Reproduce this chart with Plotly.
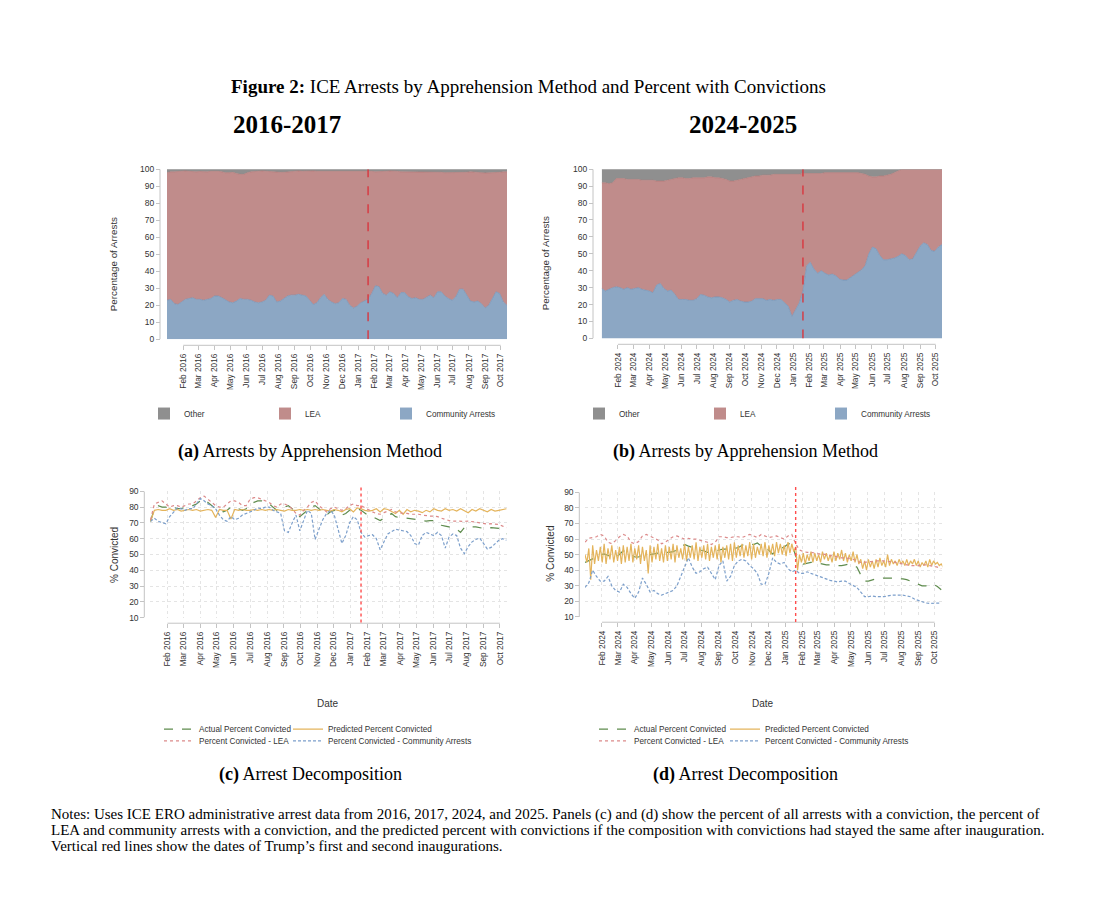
import pandas as pd
import plotly.graph_objects as go

W, H = 1118, 908
OX, OY = 8, 8  # page body margin of the html page
def px(x): return (x - OX) / W
def py(y): return 1 - (y - OY) / H

SANS = "Liberation Sans, Arial, sans-serif"
SERIF = "Liberation Serif, Times New Roman, serif"
TEXT = "#333333"
AXIS_GRAY = "#c4c4c4"
GRID = "#e4e4e4"

# ---------------- data ----------------
start_2016 = "2016-01-01"
start_2024 = "2024-01-01"
inauguration_1 = "2017-01-20"
inauguration_2 = "2025-01-20"

ticks_2016 = ["2016-02-01", "2016-03-01", "2016-04-01", "2016-05-01", "2016-06-01", "2016-07-01",
              "2016-08-01", "2016-09-01", "2016-10-01", "2016-11-01", "2016-12-01", "2017-01-01",
              "2017-02-01", "2017-03-01", "2017-04-01", "2017-05-01", "2017-06-01", "2017-07-01",
              "2017-08-01", "2017-09-01", "2017-10-01"]
labels_2016 = ["Feb 2016", "Mar 2016", "Apr 2016", "May 2016", "Jun 2016", "Jul 2016",
               "Aug 2016", "Sep 2016", "Oct 2016", "Nov 2016", "Dec 2016", "Jan 2017",
               "Feb 2017", "Mar 2017", "Apr 2017", "May 2017", "Jun 2017", "Jul 2017",
               "Aug 2017", "Sep 2017", "Oct 2017"]
ticks_2024 = ["2024-02-01", "2024-03-01", "2024-04-01", "2024-05-01", "2024-06-01", "2024-07-01",
              "2024-08-01", "2024-09-01", "2024-10-01", "2024-11-01", "2024-12-01", "2025-01-01",
              "2025-02-01", "2025-03-01", "2025-04-01", "2025-05-01", "2025-06-01", "2025-07-01",
              "2025-08-01", "2025-09-01", "2025-10-01"]
labels_2024 = ["Feb 2024", "Mar 2024", "Apr 2024", "May 2024", "Jun 2024", "Jul 2024",
               "Aug 2024", "Sep 2024", "Oct 2024", "Nov 2024", "Dec 2024", "Jan 2025",
               "Feb 2025", "Mar 2025", "Apr 2025", "May 2025", "Jun 2025", "Jul 2025",
               "Aug 2025", "Sep 2025", "Oct 2025"]

# Panel (a): weekly share of arrests, 2016-2017
a_community = [23, 23.5, 21, 20.5, 22, 23.5, 24, 24.5, 23.5, 23.5,
               23, 23.5, 24, 25.5, 25.5, 24.5, 23, 22, 21.5, 22.5,
               24, 23.5, 23.5, 23, 22, 21.5, 22, 23, 26, 25.5,
               22, 22.5, 24, 25.5, 26, 26, 26.5, 26, 25.5, 23,
               20.5, 21.5, 24.5, 26.5, 23.5, 22, 21, 21.5, 24, 23.5,
               20, 18.5, 19.5, 21.5, 22.5, 23.5, 27, 31.5, 31, 27,
               26, 28, 27, 24.5, 27.5, 27.5, 25, 24, 24.5, 23.5,
               23.5, 25, 26, 24.5, 28, 28, 25.5, 24, 23, 25,
               29.5, 29.5, 26, 22.5, 22, 22.5, 21, 18.5, 20, 24,
               28, 27, 22, 20]
a_lea = [75.0, 75.0, 77.5, 78.3, 76.8, 75.5, 74.8, 74.0, 75.0, 75.2,
         75.5, 75.0, 74.8, 73.5, 73.3, 74.0, 75.0, 76.0, 76.7, 75.0,
         73.0, 73.5, 74.5, 75.5, 76.5, 77.3, 77.0, 75.8, 72.5, 73.0,
         76.5, 75.7, 74.2, 73.0, 72.8, 73.0, 72.5, 72.8, 73.5, 76.0,
         78.5, 77.3, 74.3, 72.5, 75.5, 77.0, 78.2, 77.7, 75.2, 75.5,
         79.0, 80.7, 79.5, 77.5, 76.3, 75.3, 71.8, 67.0, 67.5, 71.8,
         72.8, 71.0, 72.0, 74.3, 71.0, 71.0, 73.5, 74.2, 73.7, 74.7,
         75.0, 73.5, 72.5, 74.0, 70.2, 70.2, 72.5, 74.0, 75.2, 73.2,
         68.7, 68.7, 72.2, 76.0, 76.2, 75.5, 77.0, 79.3, 77.8, 74.0,
         70.0, 71.2, 76.5, 78.5]
a_other = [2.0, 1.5, 1.5, 1.2, 1.2, 1.0, 1.2, 1.5, 1.5, 1.3,
           1.5, 1.5, 1.2, 1.0, 1.2, 1.5, 2.0, 2.0, 1.8, 2.5,
           3.0, 3.0, 2.0, 1.5, 1.5, 1.2, 1.0, 1.2, 1.5, 1.5,
           1.5, 1.8, 1.8, 1.5, 1.2, 1.0, 1.0, 1.2, 1.0, 1.0,
           1.0, 1.2, 1.2, 1.0, 1.0, 1.0, 0.8, 0.8, 0.8, 1.0,
           1.0, 0.8, 1.0, 1.0, 1.2, 1.2, 1.2, 1.5, 1.5, 1.2,
           1.2, 1.0, 1.0, 1.2, 1.5, 1.5, 1.5, 1.8, 1.8, 1.8,
           1.5, 1.5, 1.5, 1.5, 1.8, 1.8, 2.0, 2.0, 1.8, 1.8,
           1.8, 1.8, 1.8, 1.5, 1.8, 2.0, 2.0, 2.2, 2.2, 2.0,
           2.0, 1.8, 1.5, 1.5]

# Panel (b): weekly share of arrests, 2024-2025
b_community = [29.5, 28, 29, 30, 30.5, 30, 29, 30, 29, 29.5,
               30, 29, 28.5, 28, 27, 31.5, 32.5, 29.5, 28, 28.5,
               26, 23, 23, 23, 22.5, 22.5, 23.5, 26, 25.5, 24.5,
               24, 24.5, 24.5, 24, 23, 21.5, 22.5, 23, 22, 21.5,
               21.5, 22, 23.5, 23.5, 23.5, 22.5, 23, 22.5, 23, 23,
               21, 19, 13, 17.5, 21, 28, 43, 45, 41, 38.5,
               40, 38.5, 37.5, 38, 37, 35, 34.5, 34.5, 36, 38,
               39.5, 40.5, 43, 50, 54, 53, 49, 46.5, 46.5, 47,
               47.5, 48.5, 50, 49, 46.5, 47, 51, 54.5, 56.5, 55.5,
               52, 51.5, 54, 55.5]
b_lea = [62.5, 64, 62.5, 62, 64, 64.5, 65.5, 64, 65, 64.5,
         64, 64.5, 65, 65.5, 66.5, 61.5, 60.5, 63.5, 65.5, 65.5,
         68.5, 72, 72, 71.5, 72, 72.5, 71.5, 69, 69.5, 71,
         71.5, 70.5, 70.5, 70.5, 71, 71.5, 70.5, 70.5, 72, 73,
         73.5, 73.5, 72.5, 72.5, 73, 74, 73.5, 74.5, 74, 74,
         76, 78, 84, 79.5, 76, 69.5, 54.5, 52.5, 56.5, 59,
         57.5, 59.5, 60.5, 60, 61, 63, 63.5, 63.5, 62, 60,
         58.5, 57, 54, 46, 41.5, 42.5, 47, 49.5, 50, 50,
         50.5, 50.5, 50, 51, 53.5, 53, 49, 45.5, 43.5, 44.5,
         48, 48.5, 46, 44.5]
b_other = [8, 8, 8.5, 8, 5.5, 5.5, 5.5, 6, 6, 6,
           6, 6.5, 6.5, 6.5, 6.5, 7, 7, 7, 6.5, 6,
           5.5, 5, 5, 5.5, 5.5, 5, 5, 5, 5, 4.5,
           4.5, 5, 5, 5.5, 6, 7, 7, 6.5, 6, 5.5,
           5, 4.5, 4, 4, 3.5, 3.5, 3.5, 3, 3, 3,
           3, 3, 3, 3, 3, 2.5, 2.5, 2.5, 2.5, 2.5,
           2.5, 2, 2, 2, 2, 2, 2, 2, 2, 2,
           2, 2.5, 3, 4, 4.5, 4.5, 4, 4, 3.5, 3,
           2, 1, 0, 0, 0, 0, 0, 0, 0, 0,
           0, 0, 0, 0]

# Panel (c): weekly percent convicted, 2016-2017
c_actual = [71, 79, 81, 80, 80, 79, 80, 79, 79, 80,
            81, 81, 82, 84, 85, 83, 81, 79, 78, 77,
            78, 80, 80, 79, 78, 79, 82, 83, 84, 84,
            83, 82, 80, 78, 79, 80, 81, 79, 77, 74,
            76, 78, 80, 81, 79, 77, 75, 77, 78, 77,
            75, 76, 78, 79, 79, 78, 76, 74.5, 74, 73,
            71.5, 73, 74.5, 76, 74, 73.3, 73.3, 73, 73, 72.7,
            72, 71.5, 71.2, 71.5, 71.5, 70.2, 68.5, 68, 67.5, 66.5,
            66, 64, 67, 68, 67.5, 67.5, 67, 66.5, 66, 67,
            66.8, 66.6, 65, 63]
c_predicted = [71, 78, 78.5, 78, 78, 79, 78, 78.5, 77.5, 78,
               78.5, 78, 78.5, 77.5, 78, 78.5, 78, 73.5, 78.5, 78,
               78, 72.5, 78.5, 78, 78.5, 78, 78, 78.5, 78, 78.5,
               78, 78.5, 78, 78.5, 78, 77.5, 78.5, 78, 78, 78.5,
               78, 78.5, 78, 78.5, 78, 78.5, 78, 77.5, 78.5, 78,
               77, 78.5, 79, 77, 79.5, 79, 78, 77.5, 78, 79,
               77, 79, 78.5, 77.5, 76, 78, 75.5, 78.5, 77, 78,
               77.5, 76.5, 78, 77, 79, 78, 77.5, 79, 78, 78.5,
               77.5, 79, 78, 76.5, 78.5, 77.5, 79, 78, 77, 78.5,
               77.5, 78, 78.5, 79]
c_lea = [72, 82, 83, 84, 82, 80, 81, 81, 80, 81,
         82, 82, 84, 86, 87, 85, 83, 81, 80, 80,
         82, 84, 84, 83, 81, 81, 85, 86, 86, 85,
         84, 83, 81, 80, 82, 82, 81, 79, 76, 75,
         78, 80, 83, 84, 81, 79, 77, 79, 80, 79,
         78, 79, 81, 82, 81, 81, 79.5, 78.5, 77, 76,
         75.5, 76.5, 77.5, 78.5, 77, 76.5, 76, 76, 75.5, 75.5,
         75.5, 75, 74.5, 74.3, 74.3, 74, 73, 72, 71.5, 71.2,
         71, 70.8, 71, 71.2, 70.8, 70.2, 69.8, 69.3, 69.3, 69.5,
         69.2, 69, 68, 67]
c_community = [71, 73, 71, 70, 69.5, 74, 77, 79.5, 79, 78,
               79, 79, 82, 85.5, 84, 82, 81, 79, 75, 72,
               71, 74, 72, 73, 75, 76, 76.5, 78, 79.5, 79,
               80, 80, 78, 77, 76, 65, 64, 70, 75, 65,
               72, 78, 76, 59.5, 66, 72, 76, 78, 75, 66,
               57, 62, 70, 74, 72, 64, 61, 62, 62.5, 60,
               53, 58, 63, 64.5, 66, 65.5, 65, 64.5, 62, 57,
               56, 62, 64, 63, 62, 64, 62, 54, 61, 63,
               62, 54, 50.5, 55, 58, 59.5, 60.5, 57, 53.5, 54.5,
               57, 59, 60, 59]

# Panel (d): weekly percent convicted, 2024-2025 (predicted is half-weekly)
d_actual = [45, 46, 47, 48.5, 50, 50.5, 49.5, 49, 48, 50,
            52.5, 51.5, 50, 48.5, 48.5, 50, 50, 50, 50.5, 51,
            51, 51.5, 51.5, 52, 53, 55, 56.5, 55.5, 54.5, 53.5,
            53, 52.5, 51.5, 51.5, 52.5, 53, 53.5, 53.5, 53.5, 54,
            54.5, 56, 57, 57, 56.5, 57.5, 55.5, 55, 52.5, 50.5,
            52.5, 53.5, 55, 56.8, 57.5, 49, 45, 44, 44.5, 45,
            45, 44.5, 44, 43.5, 43.5, 43.5, 43, 43, 43.5, 44,
            43, 42, 37, 33, 33, 34, 34.5, 34.5, 35, 35,
            35, 35, 34.5, 34.5, 34, 33, 32, 31, 30, 30,
            30.5, 31, 29.5, 27.5]
d_predicted = [50, 45, 54, 34, 56, 44, 53, 46, 55, 45, 57, 44, 54, 47, 56, 45, 53, 46, 55, 44,
               56, 45, 55, 46, 57, 45, 54, 47, 56, 44, 55, 46, 53, 38, 56, 45, 55, 47, 57, 46,
               54, 45, 56, 46, 55, 47, 57, 45, 56, 48, 54, 47, 57, 46, 55, 48, 56, 47, 58, 46,
               55, 48, 56, 47, 57, 46, 55, 48, 56, 47, 57, 45, 55, 48, 56, 47, 57, 46, 58, 48,
               56, 49, 57, 48, 56, 49, 58, 47, 57, 48, 55, 50, 57, 49, 58, 48, 56, 50, 57, 49,
               58, 51, 57, 50, 56, 49, 58, 51, 57, 52, 55, 40, 50, 45, 51, 44, 50, 46, 52, 45,
               51, 46, 50, 45, 52, 47, 51, 46, 50, 45, 52, 46, 51, 47, 53, 46, 51, 45, 50, 46,
               52, 45, 50, 44, 47, 41, 46, 40, 47, 42, 46, 41, 47, 42, 48, 43, 46, 42, 50, 43,
               47, 44, 46, 43, 47, 44, 46, 43, 47, 43, 46, 44, 47, 43, 46, 42, 45, 43, 46, 42,
               47, 43, 46, 44, 45, 43, 44, 42]
d_lea = [58, 60.5, 61, 61.5, 63, 62, 58, 57, 59, 61.5,
         63, 62, 58, 57, 58.5, 62, 63, 62, 61, 59.5,
         57, 58, 60, 61.5, 62, 61, 60, 60.5, 60, 60,
         59, 58.5, 58, 56.5, 58, 61.5, 61.5, 61, 61, 61.5,
         61.5, 61, 62, 63, 62, 61, 63, 62, 61, 61.5,
         62, 61, 60, 62, 63, 57, 53, 52, 51.5, 51.5,
         51, 50.5, 50.5, 50, 49.5, 49, 48.5, 48, 48, 47.5,
         47, 46, 45, 45, 45.5, 45.5, 46, 46, 46, 45.5,
         45.5, 45, 44.5, 44, 43.5, 43, 43, 43, 43.5, 43.5,
         43, 42.5, 42, 41]
d_community = [29, 32, 40, 36, 33, 33, 36, 30, 27, 26,
               31, 29, 25, 22, 26, 35, 31, 26, 27, 25,
               24, 25, 26, 27, 30, 36, 43, 48, 42, 38,
               39, 41, 42, 38, 34, 43, 46, 33, 36, 43,
               46, 47, 46, 43, 41, 38, 31, 31, 38, 48,
               45, 44, 45, 41, 39, 40, 38, 38, 39, 38,
               37, 36, 35, 34.5, 33.5, 33, 32.5, 33, 33, 31.5,
               30.5, 29, 26, 23, 23, 23.5, 23, 23, 23, 23.5,
               24, 24, 24, 24, 23.5, 23, 21.5, 20.5, 19.5, 19,
               18.7, 18.7, 19, 19]

def weekly(start, values):
    return pd.date_range(start, periods=len(values), freq="7D")

def halfweekly(start, values):
    return pd.date_range(start, periods=len(values), freq="84h")

# ---------------- styles ----------------
AREA = {
    "Community Arrests": dict(fill="#8ca7c4", line="#7193b8"),
    "LEA": dict(fill="#c08c8b", line="#b57a79"),
    "Other": dict(fill="#8f8f8f", line="#8a8a8a"),
}
LINES = {
    "Actual Percent Convicted": dict(color="#5f8c4e", dash="dash"),
    "Predicted Percent Convicted": dict(color="#e4b45c", dash="solid"),
    "Percent Convicted - LEA": dict(color="#dc8a8a", dash="dot"),
    "Percent Convicted - Community Arrests": dict(color="#7c9fcb", dash="3px,2px"),
}

fig = go.Figure()

def add_area_panel(xa, ya, start, community, lea, other, legend, group):
    for name, vals in [("Community Arrests", community), ("LEA", lea), ("Other", other)]:
        fig.add_trace(go.Scatter(
            x=weekly(start, vals), y=vals, mode="lines", stackgroup=group, groupnorm="percent",
            line=dict(width=0.7, color=AREA[name]["line"]), fillcolor=AREA[name]["fill"],
            xaxis=xa, yaxis=ya, showlegend=False, hoverinfo="skip", name=name))
    for name in ["Other", "LEA", "Community Arrests"]:
        fig.add_trace(go.Scatter(
            x=[None], y=[None], mode="markers", name=name, legend=legend,
            marker=dict(symbol="square", size=8, color=AREA[name]["fill"]),
            xaxis=xa, yaxis=ya, showlegend=True))

def add_line_panel(xa, ya, start, actual, predicted, predicted_dates, lea, community, legends):
    series = [("Actual Percent Convicted", weekly(start, actual), actual),
              ("Predicted Percent Convicted", predicted_dates(start, predicted), predicted),
              ("Percent Convicted - LEA", weekly(start, lea), lea),
              ("Percent Convicted - Community Arrests", weekly(start, community), community)]
    for (name, xs, vals), leg in zip(series, legends):
        fig.add_trace(go.Scatter(
            x=xs, y=vals, mode="lines", name=name, legend=leg,
            line=dict(color=LINES[name]["color"], dash=LINES[name]["dash"], width=1.2),
            xaxis=xa, yaxis=ya, hoverinfo="skip"))

add_area_panel("x", "y", start_2016, a_community, a_lea, a_other, "legend", "a")
add_area_panel("x2", "y2", start_2024, b_community, b_lea, b_other, "legend2", "b")
add_line_panel("x3", "y3", start_2016, c_actual, c_predicted, weekly, c_lea, c_community,
               ["legend3", "legend4", "legend5", "legend6"])
add_line_panel("x4", "y4", start_2024, d_actual, d_predicted, halfweekly, d_lea, d_community,
               ["legend7", "legend8", "legend9", "legend10"])

# ---------------- axes ----------------
def xaxis_cfg(dom, rng, pos, tickvals, ticktext, grid):
    return dict(domain=dom, range=rng, anchor="free", position=pos, type="date",
                tickmode="array", tickvals=tickvals, ticktext=ticktext, tickangle=-90,
                ticks="outside", ticklen=4, tickcolor=AXIS_GRAY, tickwidth=1,
                showline=False, showgrid=grid, gridcolor=GRID, griddash="dot", gridwidth=1,
                zeroline=False, fixedrange=True,
                tickfont=dict(family=SANS, size=8.3, color=TEXT))

def yaxis_cfg(dom, rng, pos, tickvals, grid):
    return dict(domain=dom, range=rng, anchor="free", position=pos,
                tickmode="array", tickvals=tickvals,
                ticks="outside", ticklen=4, tickcolor=AXIS_GRAY, tickwidth=1,
                showline=False, showgrid=grid, gridcolor=GRID, griddash="dot", gridwidth=1,
                zeroline=False, fixedrange=True,
                tickfont=dict(family=SANS, size=8.5, color=TEXT))

pct_ticks = [0, 10, 20, 30, 40, 50, 60, 70, 80, 90, 100]
conv_ticks = [10, 20, 30, 40, 50, 60, 70, 80, 90]

fig.update_layout(
    xaxis=xaxis_cfg([px(167), px(507)], ["2016-01-01", "2017-10-13"], py(344), ticks_2016, labels_2016, False),
    yaxis=yaxis_cfg([py(338), py(166)], [0, 100], px(160), pct_ticks, False),
    xaxis2=xaxis_cfg([px(601.7), px(942)], ["2024-01-01", "2025-10-13"], py(343), ticks_2024, labels_2024, False),
    yaxis2=yaxis_cfg([py(337), py(166)], [0, 100], px(593), pct_ticks, False),
    xaxis3=xaxis_cfg([px(150), px(507)], ["2015-12-31", "2017-10-14"], py(625), ticks_2016, labels_2016, True),
    yaxis3=yaxis_cfg([py(619.3), py(491.7)], [10, 90], px(144.3), conv_ticks, True),
    xaxis4=xaxis_cfg([px(585), px(942.3)], ["2024-01-01", "2025-10-15"], py(624), ticks_2024, labels_2024, True),
    yaxis4=yaxis_cfg([py(618.7), py(492.7)], [10, 90], px(579.3), conv_ticks, True),
)

# ---------------- axis lines and inauguration lines ----------------
shapes = []
for xa, ya, tickvals, pos_x, pos_y, yr in [
        ("x", "y", ticks_2016, px(160), py(344), (0, 100)),
        ("x2", "y2", ticks_2024, px(593), py(343), (0, 100)),
        ("x3", "y3", ticks_2016, px(144.3), py(625), (10, 90)),
        ("x4", "y4", ticks_2024, px(579.3), py(624), (10, 90))]:
    shapes.append(dict(type="line", xref="paper", yref=ya, x0=pos_x, x1=pos_x, y0=yr[0], y1=yr[1],
                       line=dict(color=AXIS_GRAY, width=1)))
    shapes.append(dict(type="line", xref=xa, yref="paper", x0=tickvals[0], x1=tickvals[-1], y0=pos_y, y1=pos_y,
                       line=dict(color=AXIS_GRAY, width=1)))

shapes.append(dict(type="line", xref="x", yref="y", x0=inauguration_1, x1=inauguration_1, y0=0, y1=100,
                   line=dict(color="#d9363e", width=1.4, dash="dash")))
shapes.append(dict(type="line", xref="x2", yref="y2", x0=inauguration_2, x1=inauguration_2, y0=0, y1=100,
                   line=dict(color="#d9363e", width=1.4, dash="dash")))
shapes.append(dict(type="line", xref="x3", yref="y3 domain", x0=inauguration_1, x1=inauguration_1, y0=-0.04, y1=1.05,
                   line=dict(color="#ff4d4d", width=1.4, dash="dot")))
shapes.append(dict(type="line", xref="x4", yref="y4 domain", x0=inauguration_2, x1=inauguration_2, y0=-0.04, y1=1.05,
                   line=dict(color="#ff4d4d", width=1.4, dash="dot")))

# ---------------- text ----------------
def ann(x, y, text, size, family=SERIF, color="#000000", angle=0, xanchor="center", yanchor="middle", align="center"):
    return dict(x=x, y=y, xref="paper", yref="paper", text=text, showarrow=False, textangle=angle,
                xanchor=xanchor, yanchor=yanchor, align=align,
                font=dict(family=family, size=size, color=color))

notes_lines = [
    "Notes: Uses ICE ERO administrative arrest data from 2016, 2017, 2024, and 2025. Panels (c) and (d) show the percent of all arrests with a conviction, the percent of",
    "LEA and community arrests with a conviction, and the predicted percent with convictions if the composition with convictions had stayed the same after inauguration.",
    "Vertical red lines show the dates of Trump\u2019s first and second inaugurations.",
]
notes_y = [818, 834, 850]

annotations = [
    ann(px(528), py(82), "<b>Figure 2:</b> ICE Arrests by Apprehension Method and Percent with Convictions", 19),
    ann(px(287), py(121), "<b>2016-2017</b>", 25),
    ann(px(743), py(121), "<b>2024-2025</b>", 25),
    ann(px(310), py(451), "<b>(a)</b> Arrests by Apprehension Method", 18),
    ann(px(745), py(451), "<b>(b)</b> Arrests by Apprehension Method", 18),
    ann(px(310), py(778), "<b>(c)</b> Arrest Decomposition", 18),
    ann(px(745), py(778), "<b>(d)</b> Arrest Decomposition", 18),
    ann(px(113), py(262), "Percentage of Arrests", 9.8, family=SANS, color=TEXT, angle=-90),
    ann(px(545), py(261), "Percentage of Arrests", 9.8, family=SANS, color=TEXT, angle=-90),
    ann(px(115), py(556), "% Convicted", 10, family=SANS, color=TEXT, angle=-90),
    ann(px(550.7), py(555), "% Convicted", 10, family=SANS, color=TEXT, angle=-90),
    ann(px(328), py(706), "Date", 10, family=SANS, color=TEXT),
    ann(px(763), py(706), "Date", 10, family=SANS, color=TEXT),
]
for line, yy in zip(notes_lines, notes_y):
    annotations.append(ann(px(49), py(yy), line, 15, xanchor="left", align="left"))

leg = dict(orientation="h", xanchor="left", yanchor="middle", bgcolor="rgba(0,0,0,0)", borderwidth=0,
           font=dict(family=SANS, size=8.2, color=TEXT), traceorder="normal",
           itemclick=False, itemdoubleclick=False, tracegroupgap=0)
area_leg = dict(leg, entrywidthmode="pixels", entrywidth=76, itemsizing="constant")

fig.update_layout(
    width=W, height=H, autosize=False,
    margin=dict(l=0, r=0, t=0, b=0),
    paper_bgcolor="white", plot_bgcolor="white",
    shapes=shapes, annotations=annotations, showlegend=True,
    legend=dict(x=px(144), y=py(413), **area_leg),
    legend2=dict(x=px(579), y=py(413), **area_leg),
    legend3=dict(x=px(159), y=py(732), **leg),
    legend4=dict(x=px(288), y=py(732), **leg),
    legend5=dict(x=px(159), y=py(744), **leg),
    legend6=dict(x=px(288), y=py(744), **leg),
    legend7=dict(x=px(594), y=py(732), **leg),
    legend8=dict(x=px(725), y=py(732), **leg),
    legend9=dict(x=px(594), y=py(744), **leg),
    legend10=dict(x=px(725), y=py(744), **leg),
)

fig.write_html("out.html")
